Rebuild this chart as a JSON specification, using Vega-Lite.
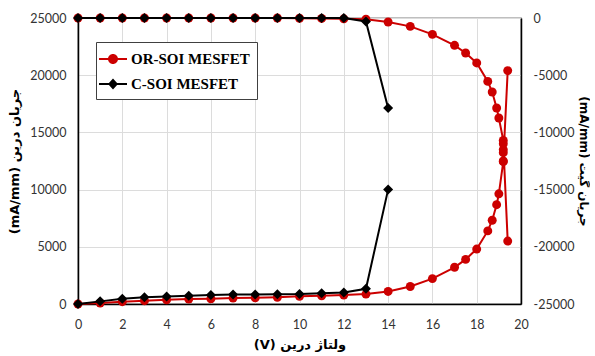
{
  "$schema": "https://vega.github.io/schema/vega-lite/v6.json",
  "width": 443,
  "height": 286,
  "padding": {"left": 8, "top": 12, "right": 0, "bottom": 0},
  "config": {
    "view": {"stroke": "#000000", "strokeWidth": 1.2},
    "axis": {
      "labelFont": "Lato", "labelFontSize": 12.5, "labelColor": "#333333",
      "titleFont": "DejaVu Sans", "titleFontSize": 13, "titleFontWeight": "bold", "titleColor": "#000000",
      "domainColor": "#000000", "domainWidth": 1.5, "ticks": false, "labelPadding": 12,
      "gridColor": "#dcdcdc", "gridWidth": 1, "labelFlush": false
    }
  },
  "datasets": {
    "pts": [
      {"d":"OR","k":"drain","i":0,"x":0,"v":0},
      {"d":"OR","k":"drain","i":1,"x":1,"v":90},
      {"d":"OR","k":"drain","i":2,"x":2,"v":200},
      {"d":"OR","k":"drain","i":3,"x":3,"v":290},
      {"d":"OR","k":"drain","i":4,"x":4,"v":370},
      {"d":"OR","k":"drain","i":5,"x":5,"v":430},
      {"d":"OR","k":"drain","i":6,"x":6,"v":460},
      {"d":"OR","k":"drain","i":7,"x":7,"v":520},
      {"d":"OR","k":"drain","i":8,"x":8,"v":540},
      {"d":"OR","k":"drain","i":9,"x":9,"v":590},
      {"d":"OR","k":"drain","i":10,"x":10,"v":680},
      {"d":"OR","k":"drain","i":11,"x":11,"v":720},
      {"d":"OR","k":"drain","i":12,"x":12,"v":780},
      {"d":"OR","k":"drain","i":13,"x":13,"v":870},
      {"d":"OR","k":"drain","i":14,"x":14,"v":1100},
      {"d":"OR","k":"drain","i":15,"x":15,"v":1530},
      {"d":"OR","k":"drain","i":16,"x":16,"v":2220},
      {"d":"OR","k":"drain","i":17,"x":17,"v":3210},
      {"d":"OR","k":"drain","i":18,"x":17.5,"v":3900},
      {"d":"OR","k":"drain","i":19,"x":18,"v":4800},
      {"d":"OR","k":"drain","i":20,"x":18.5,"v":6390},
      {"d":"OR","k":"drain","i":21,"x":18.7,"v":7320},
      {"d":"OR","k":"drain","i":22,"x":18.9,"v":8680},
      {"d":"OR","k":"drain","i":23,"x":19,"v":9630},
      {"d":"OR","k":"drain","i":24,"x":19.2,"v":12440},
      {"d":"OR","k":"drain","i":25,"x":19.2,"v":13230},
      {"d":"OR","k":"drain","i":26,"x":19.2,"v":14000},
      {"d":"OR","k":"drain","i":27,"x":19.4,"v":5500},
      {"d":"C","k":"drain","i":0,"x":0,"v":0},
      {"d":"C","k":"drain","i":1,"x":1,"v":230},
      {"d":"C","k":"drain","i":2,"x":2,"v":460},
      {"d":"C","k":"drain","i":3,"x":3,"v":600},
      {"d":"C","k":"drain","i":4,"x":4,"v":660},
      {"d":"C","k":"drain","i":5,"x":5,"v":720},
      {"d":"C","k":"drain","i":6,"x":6,"v":780},
      {"d":"C","k":"drain","i":7,"x":7,"v":830},
      {"d":"C","k":"drain","i":8,"x":8,"v":840},
      {"d":"C","k":"drain","i":9,"x":9,"v":860},
      {"d":"C","k":"drain","i":10,"x":10,"v":880},
      {"d":"C","k":"drain","i":11,"x":11,"v":950},
      {"d":"C","k":"drain","i":12,"x":12,"v":1010},
      {"d":"C","k":"drain","i":13,"x":13,"v":1330},
      {"d":"C","k":"drain","i":14,"x":14,"v":10000},
      {"d":"OR","k":"gate","i":0,"x":0,"v":0},
      {"d":"OR","k":"gate","i":1,"x":1,"v":0},
      {"d":"OR","k":"gate","i":2,"x":2,"v":0},
      {"d":"OR","k":"gate","i":3,"x":3,"v":0},
      {"d":"OR","k":"gate","i":4,"x":4,"v":0},
      {"d":"OR","k":"gate","i":5,"x":5,"v":0},
      {"d":"OR","k":"gate","i":6,"x":6,"v":0},
      {"d":"OR","k":"gate","i":7,"x":7,"v":0},
      {"d":"OR","k":"gate","i":8,"x":8,"v":0},
      {"d":"OR","k":"gate","i":9,"x":9,"v":0},
      {"d":"OR","k":"gate","i":10,"x":10,"v":-20},
      {"d":"OR","k":"gate","i":11,"x":11,"v":-40},
      {"d":"OR","k":"gate","i":12,"x":12,"v":-70},
      {"d":"OR","k":"gate","i":13,"x":13,"v":-110},
      {"d":"OR","k":"gate","i":14,"x":14,"v":-350},
      {"d":"OR","k":"gate","i":15,"x":15,"v":-730},
      {"d":"OR","k":"gate","i":16,"x":16,"v":-1430},
      {"d":"OR","k":"gate","i":17,"x":17,"v":-2390},
      {"d":"OR","k":"gate","i":18,"x":17.5,"v":-3060},
      {"d":"OR","k":"gate","i":19,"x":18,"v":-3930},
      {"d":"OR","k":"gate","i":20,"x":18.5,"v":-5540},
      {"d":"OR","k":"gate","i":21,"x":18.7,"v":-6470},
      {"d":"OR","k":"gate","i":22,"x":18.9,"v":-7870},
      {"d":"OR","k":"gate","i":23,"x":19,"v":-8740},
      {"d":"OR","k":"gate","i":24,"x":19.2,"v":-10700},
      {"d":"OR","k":"gate","i":25,"x":19.2,"v":-11500},
      {"d":"OR","k":"gate","i":26,"x":19.2,"v":-12500},
      {"d":"OR","k":"gate","i":27,"x":19.4,"v":-4600},
      {"d":"C","k":"gate","i":0,"x":0,"v":0},
      {"d":"C","k":"gate","i":1,"x":1,"v":0},
      {"d":"C","k":"gate","i":2,"x":2,"v":0},
      {"d":"C","k":"gate","i":3,"x":3,"v":0},
      {"d":"C","k":"gate","i":4,"x":4,"v":0},
      {"d":"C","k":"gate","i":5,"x":5,"v":0},
      {"d":"C","k":"gate","i":6,"x":6,"v":0},
      {"d":"C","k":"gate","i":7,"x":7,"v":0},
      {"d":"C","k":"gate","i":8,"x":8,"v":0},
      {"d":"C","k":"gate","i":9,"x":9,"v":0},
      {"d":"C","k":"gate","i":10,"x":10,"v":0},
      {"d":"C","k":"gate","i":11,"x":11,"v":0},
      {"d":"C","k":"gate","i":12,"x":12,"v":0},
      {"d":"C","k":"gate","i":13,"x":13,"v":-300},
      {"d":"C","k":"gate","i":14,"x":14,"v":-7870}
    ],
    "legendrows": [
      {"name": "OR-SOI MESFET", "x": 0, "v": 0},
      {"name": "C-SOI MESFET", "x": 0, "v": 0}
    ]
  },
  "data": {"name": "pts"},
  "encoding": {
    "x": {
      "field": "x", "type": "quantitative",
      "scale": {"domain": [0, 20], "nice": false, "zero": false},
      "axis": {"values": [0,2,4,6,8,10,12,14,16,18,20], "title": "(V) ولتاژ درین", "grid": true, "labelPadding": 14, "titlePadding": 8}
    }
  },
  "layer": [
    {
      "encoding": {
        "y": {
          "field": "v", "type": "quantitative",
          "scale": {"domain": [0, 25000], "nice": false},
          "axis": {"orient": "left", "values": [0,5000,10000,15000,20000,25000], "format": "d", "grid": true, "title": "(mA/mm) جریان درین", "titlePadding": 8}
        },
        "order": {"field": "i", "type": "quantitative"}
      },
      "layer": [
        {"transform": [{"filter": "datum.k == 'drain' && datum.d == 'OR'"}], "mark": {"type": "line", "color": "#cc0000", "strokeWidth": 2}},
        {"transform": [{"filter": "datum.k == 'drain' && datum.d == 'OR'"}], "mark": {"type": "point", "shape": "circle", "filled": true, "color": "#cc0000", "size": 80, "opacity": 1}},
        {"transform": [{"filter": "datum.k == 'drain' && datum.d == 'C'"}], "mark": {"type": "line", "color": "#000000", "strokeWidth": 2}},
        {"transform": [{"filter": "datum.k == 'drain' && datum.d == 'C'"}], "mark": {"type": "point", "shape": "diamond", "filled": true, "color": "#000000", "size": 100, "opacity": 1}},
        {
          "data": {"name": "legendrows"},
          "transform": [{"filter": "datum.v > 1000000"}],
          "mark": {"type": "point", "filled": true, "opacity": 1},
          "encoding": {
            "fill": {
              "field": "name", "type": "nominal",
              "scale": {"domain": ["OR-SOI MESFET", "C-SOI MESFET"], "range": ["#cc0000", "#000000"]},
              "legend": {
                "title": null, "orient": "none", "legendX": 18, "legendY": 24,
                "labelFont": "Liberation Serif", "labelFontSize": 15, "labelFontWeight": "bold", "labelColor": "#000000",
                "symbolSize": 400, "symbolStrokeWidth": 0, "symbolOpacity": 1,
                "padding": 7, "rowPadding": 7, "labelOffset": 8,
                "strokeColor": "#404040", "fillColor": "#ffffff"
              }
            },
            "shape": {
              "field": "name", "type": "nominal",
              "scale": {"domain": ["OR-SOI MESFET", "C-SOI MESFET"], "range": ["M-1.4,-0.11H1.4V0.11H-1.4Z M-0.5,0A0.5,0.5,0,1,1,0.5,0A0.5,0.5,0,1,1,-0.5,0Z", "M-1.4,-0.11H1.4V0.11H-1.4Z M0,-0.55L0.5,0L0,0.55L-0.5,0Z"]},
              "legend": {
                "title": null, "orient": "none", "legendX": 18, "legendY": 24,
                "labelFont": "Liberation Serif", "labelFontSize": 15, "labelFontWeight": "bold", "labelColor": "#000000",
                "symbolSize": 400, "symbolStrokeWidth": 0, "symbolOpacity": 1,
                "padding": 7, "rowPadding": 7, "labelOffset": 8,
                "strokeColor": "#404040", "fillColor": "#ffffff"
              }
            }
          }
        }
      ]
    },
    {
      "encoding": {
        "y": {
          "field": "v", "type": "quantitative",
          "scale": {"domain": [-25000, 0], "nice": false},
          "axis": {"orient": "right", "values": [-25000,-20000,-15000,-10000,-5000,0], "format": "d", "labelExpr": "replace(datum.label, '\u2212', '-')", "grid": false, "title": "(mA/mm) جریان گیت", "titleFontSize": 12, "titlePadding": 3}
        },
        "order": {"field": "i", "type": "quantitative"}
      },
      "layer": [
        {"transform": [{"filter": "datum.k == 'gate' && datum.d == 'OR'"}], "mark": {"type": "line", "color": "#cc0000", "strokeWidth": 2}},
        {"transform": [{"filter": "datum.k == 'gate' && datum.d == 'OR'"}], "mark": {"type": "point", "shape": "circle", "filled": true, "color": "#cc0000", "size": 80, "opacity": 1}},
        {"transform": [{"filter": "datum.k == 'gate' && datum.d == 'C'"}], "mark": {"type": "line", "color": "#000000", "strokeWidth": 2}},
        {"transform": [{"filter": "datum.k == 'gate' && datum.d == 'C'"}], "mark": {"type": "point", "shape": "diamond", "filled": true, "color": "#000000", "size": 100, "opacity": 1}}
      ]
    }
  ],
  "resolve": {"scale": {"y": "independent"}}
}
